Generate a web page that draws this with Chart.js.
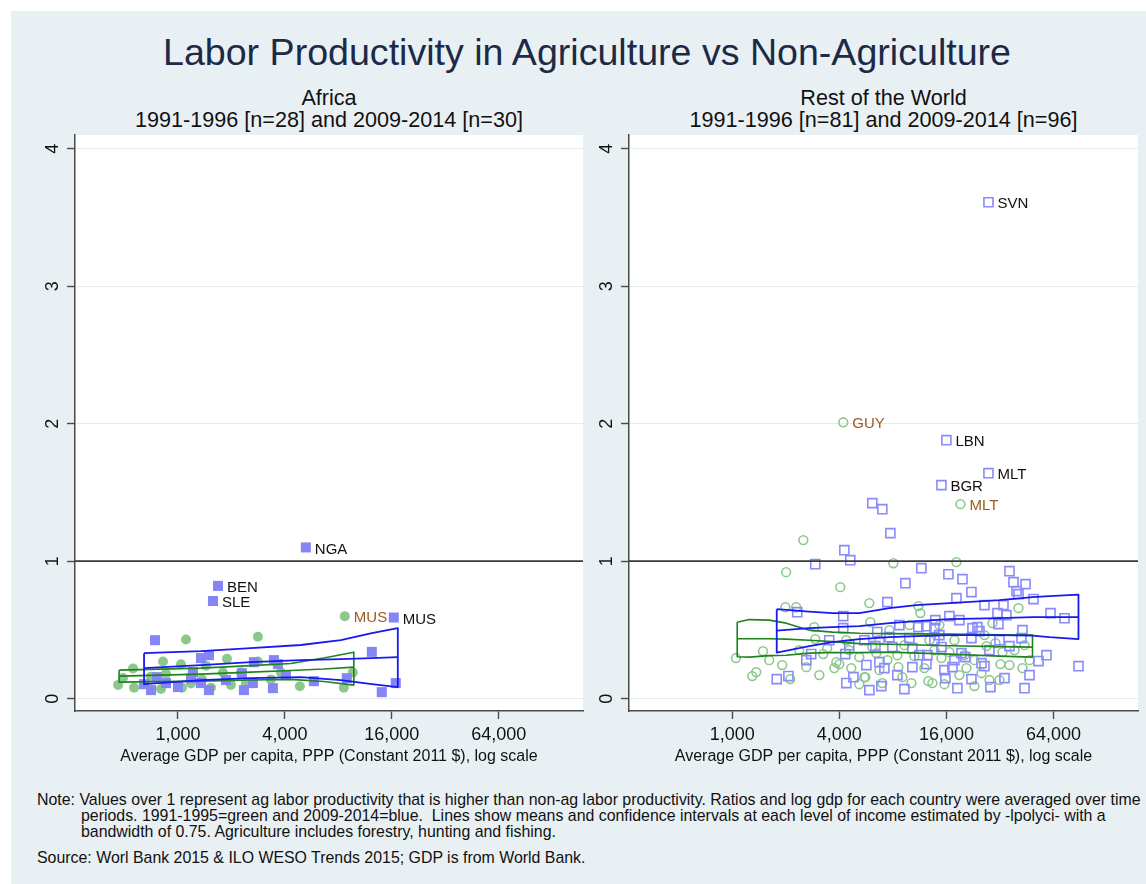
<!DOCTYPE html>
<html>
<head>
<meta charset="utf-8">
<title>Labor Productivity in Agriculture vs Non-Agriculture</title>
<script src="https://cdn.jsdelivr.net/npm/chart.js@4.4.1/dist/chart.umd.min.js"></script>
<style>
  body { margin: 0; width: 1146px; height: 884px; background: #fff; position: relative; overflow: hidden;
         font-family: "Liberation Sans", Arial, Helvetica, sans-serif; color: #111; }
  #frame { position: absolute; left: 11px; top: 11px; right: 0; bottom: 0; background: #e9f0f3; }
  .txt { position: absolute; white-space: nowrap; }
  .ctr { text-align: center; }
  #title { left: 11px; width: 1152px; top: 34px; font-size: 37.6px; line-height: 37px; color: #1c2a48; }
  .sub { font-size: 21.6px; line-height: 21px; }
  .note { font-size: 15.9px; line-height: 16px; }
  canvas { position: absolute; }
</style>
</head>
<body>
<div id="frame"></div>
<div id="title" class="txt ctr">Labor Productivity in Agriculture vs Non-Agriculture</div>
<div class="txt ctr sub" style="left:75px;width:508px;top:87px">Africa</div>
<div class="txt ctr sub" style="left:75px;width:508px;top:109px">1991-1996 [n=28] and 2009-2014 [n=30]</div>
<div class="txt ctr sub" style="left:629px;width:509px;top:87px">Rest of the World</div>
<div class="txt ctr sub" style="left:629px;width:509px;top:109px">1991-1996 [n=81] and 2009-2014 [n=96]</div>

<canvas id="africa" width="580" height="650" style="left:20px;top:125px"></canvas>
<canvas id="world" width="572" height="650" style="left:574px;top:125px"></canvas>

<div class="txt note" style="left:37px;top:792px">Note: Values over 1 represent ag labor productivity that is higher than non-ag labor productivity. Ratios and log gdp for each country were averaged over time</div>
<div class="txt note" style="left:81px;top:808px">periods. 1991-1995=green and 2009-2014=blue.&nbsp; Lines show means and confidence intervals at each level of income estimated by -lpolyci- with a</div>
<div class="txt note" style="left:81px;top:824px">bandwidth of 0.75. Agriculture includes forestry, hunting and fishing.</div>
<div class="txt note" style="left:37px;top:850px">Source: Worl Bank 2015 &amp; ILO WESO Trends 2015; GDP is from World Bank.</div>

<script>
// ---- Axis setup ----
const xTickValues = [1000, 4000, 16000, 64000];
const xTickLabels = ['1,000', '4,000', '16,000', '64,000'];
const yTickValues = [0, 1, 2, 3, 4];
const xTitle = 'Average GDP per capita, PPP (Constant 2011 $), log scale';
const parityLine = 1;

// ---- Africa, 1991-1996 (green circles) ----
const afrGdp9196   = [460, 558, 566, 823, 856, 1040, 1053, 1109, 1365, 1791, 1887, 2262, 2819, 2819, 4857, 8590, 9650, 8700, 705, 1183, 1534, 1987, 2413, 3336, 1437, 3798, 802, 490];
const afrRatio9196 = [0.10, 0.22, 0.08, 0.27, 0.18, 0.25, 0.08, 0.43, 0.14, 0.19, 0.29, 0.19, 0.45, 0.27, 0.09, 0.08, 0.19, 0.60, 0.16, 0.11, 0.08, 0.10, 0.11, 0.14, 0.24, 0.19, 0.07, 0.15];
const afrCode9196  = ['', '', '', '', '', '', '', '', '', '', '', '', '', '', '', '', '', 'MUS', '', '', '', '', '', '', '', '', '', ''];

// ---- Africa, 2009-2014 (blue squares) ----
const afrGdp0914   = [5250, 1680, 1574, 16420, 742, 12350, 644, 705, 762, 1000, 1183, 1347, 1494, 1494, 1347, 2291, 2352, 2677, 3469, 3653, 3424, 5824, 8930, 14050, 16850, 1214, 2642, 856, 1863, 4052];
const afrRatio0914 = [1.10, 0.82, 0.71, 0.59, 0.425, 0.34, 0.105, 0.062, 0.156, 0.084, 0.149, 0.295, 0.316, 0.062, 0.113, 0.185, 0.062, 0.265, 0.28, 0.251, 0.076, 0.127, 0.149, 0.047, 0.113, 0.193, 0.113, 0.113, 0.135, 0.171];
const afrCode0914  = ['NGA', 'BEN', 'SLE', 'MUS', '', '', '', '', '', '', '', '', '', '', '', '', '', '', '', '', '', '', '', '', '', '', '', '', '', ''];

// ---- Africa, local polynomial fits (mean and CI) ----
const afrFitGdp9196  = [466, 1347, 2574, 4323, 6630, 9780];
const afrFitMean9196 = [0.164, 0.178, 0.193, 0.205, 0.215, 0.229];
const afrFitHi9196   = [0.207, 0.222, 0.240, 0.255, 0.295, 0.338];
const afrFitLo9196   = [0.120, 0.127, 0.135, 0.140, 0.125, 0.098];

const afrFitGdp0914  = [644, 1347, 2574, 4920, 8260, 12350, 17300];
const afrFitMean0914 = [0.222, 0.244, 0.265, 0.280, 0.287, 0.295, 0.302];
const afrFitHi0914   = [0.331, 0.345, 0.367, 0.390, 0.425, 0.476, 0.513];
const afrFitLo0914   = [0.105, 0.135, 0.149, 0.156, 0.135, 0.105, 0.084];

// ---- Rest of the World, 1991-1996 (green hollow circles) ----
const rowGdp9196 = [4210, 19180, 2510, 2010, 4050, 1990, 2290, 5900, 2890, 5980, 2930, 1490, 1050, 3420, 3250, 2610, 3850, 4000, 3750, 1910,
  1365, 1296, 2120, 5600, 6130, 6460, 5180, 8050, 18210, 11130, 11420, 40660, 29040, 12840, 26180, 6720, 26860, 30190, 16630, 33050,
  8480, 10570, 15000, 46900, 20730, 32200, 42830, 8590, 5530, 9050, 10170, 12670, 13350, 25180, 6980, 4380, 4670, 7450, 9290, 12030,
  18930, 23000, 27930, 36200, 38620, 14610, 17750, 6720, 3090, 1615, 2380, 4550, 9910, 20200, 31800, 13700, 7650, 5180, 15590, 23000, 43960];
const rowRatio9196 = [2.01, 1.415, 1.153, 0.92, 0.811, 0.665, 0.665, 0.695, 0.52, 0.556, 0.433, 0.345, 0.295, 0.367, 0.324, 0.229, 0.265, 0.251, 0.222, 0.244,
  0.193, 0.164, 0.142, 0.156, 0.375, 0.331, 0.302, 0.985, 0.993, 0.673, 0.622, 0.658, 0.549, 0.425, 0.462, 0.425, 0.382, 0.404, 0.338, 0.338,
  0.316, 0.309, 0.295, 0.28, 0.222, 0.251, 0.222, 0.229, 0.156, 0.156, 0.113, 0.127, 0.113, 0.185, 0.113, 0.425, 0.222, 0.28, 0.389, 0.222,
  0.171, 0.28, 0.135, 0.244, 0.353, 0.535, 0.425, 0.207, 0.171, 0.28, 0.353, 0.353, 0.535, 0.316, 0.135, 0.353, 0.498, 0.105, 0.105, 0.091, 0.389];
const rowCode9196 = ['GUY', 'MLT'];

// ---- Rest of the World, 2009-2014 (blue hollow squares) ----
const rowGdp0914 = [27570, 16000, 27570, 15000, 6130, 6980, 7745, 4270, 4610, 2930, 2320, 4210, 7450, 4210, 6540, 2780, 2610, 4320, 1780, 2070,
  5680, 4800, 4380, 6890, 6720, 6380, 7170, 11570, 16420, 19690, 36200, 9410, 22120, 38120, 44540, 39630, 40660, 18210, 49400, 33490,
  30980, 34810, 61560, 73800, 16630, 13870, 12350, 13700, 11130, 31390, 22410, 23910, 24530, 42830, 7645, 9910, 14610, 22120, 42280, 36200,
  7950, 10300, 15000, 19430, 20470, 12510, 58440, 52690, 88400, 10300, 12350, 17290, 25180, 26180, 15590, 8480, 15790, 22120, 28290, 43960,
  4550, 9290, 18450, 46900, 33920, 11280, 13700, 18930, 26180, 8700, 5530, 3510, 27930, 31800, 17750, 5900];
const rowRatio0914 = [3.611, 1.88, 1.64, 1.553, 1.422, 1.378, 1.204, 1.08, 1.007, 0.978, 0.629, 0.60, 0.702, 0.513, 0.484, 0.324, 0.28, 0.324, 0.142, 0.164,
  0.244, 0.156, 0.113, 0.091, 0.265, 0.382, 0.222, 0.949, 0.905, 0.869, 0.927, 0.84, 0.775, 0.847, 0.833, 0.782, 0.76, 0.731, 0.724, 0.68,
  0.622, 0.607, 0.622, 0.585, 0.60, 0.571, 0.527, 0.513, 0.52, 0.542, 0.513, 0.52, 0.491, 0.498, 0.447, 0.44, 0.462, 0.44, 0.44, 0.382,
  0.375, 0.367, 0.375, 0.331, 0.302, 0.316, 0.316, 0.273, 0.236, 0.229, 0.251, 0.229, 0.258, 0.236, 0.207, 0.171, 0.149, 0.142, 0.084, 0.076,
  0.389, 0.069, 0.076, 0.171, 0.149, 0.316, 0.425, 0.571, 0.68, 0.535, 0.425, 0.425, 0.353, 0.425, 0.28, 0.062];
const rowCode0914 = ['SVN', 'LBN', 'MLT', 'BGR'];

// ---- Rest of the World, local polynomial fits ----
const rowFitGdp9196  = [1067, 1246, 1615, 2013, 2712, 3653, 5183, 7645, 16630, 31800, 48750];
const rowFitMean9196 = [0.436, 0.436, 0.436, 0.433, 0.425, 0.415, 0.400, 0.396, 0.385, 0.378, 0.375];
const rowFitHi9196   = [0.556, 0.575, 0.571, 0.549, 0.498, 0.484, 0.476, 0.473, 0.469, 0.465, 0.462];
const rowFitLo9196   = [0.305, 0.302, 0.313, 0.316, 0.331, 0.335, 0.335, 0.338, 0.324, 0.309, 0.302];

const rowFitGdp0914  = [1780, 2712, 3653, 5183, 7645, 10850, 16630, 31800, 48750, 60760, 88400];
const rowFitMean0914 = [0.495, 0.513, 0.520, 0.527, 0.549, 0.564, 0.578, 0.585, 0.593, 0.593, 0.593];
const rowFitHi0914   = [0.651, 0.633, 0.622, 0.622, 0.658, 0.680, 0.695, 0.716, 0.738, 0.745, 0.756];
const rowFitLo0914   = [0.335, 0.382, 0.411, 0.433, 0.447, 0.455, 0.462, 0.462, 0.458, 0.447, 0.433];

// ---- Styling ----
const FONT = '"Liberation Sans", Arial, Helvetica, sans-serif';
const GREEN_MARK = '#8cc88c';
const BLUE_MARK  = '#8585f5';
const GREEN_LINE = '#1f841f';
const BLUE_LINE  = '#1818f0';
const LABEL_DARK = '#111111';
const LABEL_BROWN = '#9b5a1e';
const X_MIN = 263, X_MAX = 191000, Y_MIN = -0.09, Y_MAX = 4.1;

const points = (xs, ys) => xs.map((x, i) => ({ x, y: ys[i] }));
const codesFor = (n, codes) => Array.from({ length: n }, (_, i) => codes[i] || '');

// closed outline: upper bound left->right, then lower bound right->left
function envelope(xs, hi, lo) {
  const pts = xs.map((x, i) => ({ x, y: hi[i] }));
  for (let i = xs.length - 1; i >= 0; i--) pts.push({ x: xs[i], y: lo[i] });
  pts.push({ x: xs[0], y: hi[0] });
  return pts;
}

const lineSet = (data, color, width) => ({
  data, showLine: true, borderColor: color, borderWidth: width, pointRadius: 0,
  fill: false, tension: 0, borderJoinStyle: 'round'
});

// white plot region
const plotBg = {
  id: 'plotBg',
  beforeDraw(chart) {
    const { ctx, chartArea: a } = chart;
    ctx.save();
    ctx.fillStyle = '#ffffff';
    ctx.fillRect(a.left, a.top, a.right - a.left, a.bottom - a.top);
    ctx.restore();
  }
};

// tick labels (y rotated, Stata style) and x-axis title
const axisText = {
  id: 'axisText',
  afterDraw(chart) {
    const { ctx, chartArea: a, scales: { x, y } } = chart;
    ctx.save();
    ctx.fillStyle = '#111';
    ctx.font = '18px ' + FONT;
    ctx.textAlign = 'center';
    ctx.textBaseline = 'middle';
    yTickValues.forEach(v => {
      ctx.save();
      ctx.translate(a.left - 23, y.getPixelForValue(v));
      ctx.rotate(-Math.PI / 2);
      ctx.fillText(String(v), 0, 1);
      ctx.restore();
    });
    ctx.textBaseline = 'alphabetic';
    xTickValues.forEach((v, i) => {
      ctx.fillText(xTickLabels[i], x.getPixelForValue(v), a.bottom + 29);
    });
    ctx.font = '16px ' + FONT;
    ctx.fillText(xTitle, (a.left + a.right) / 2, a.bottom + 50);
    ctx.restore();
  }
};

// country codes to the right of labelled markers
const markerLabels = {
  id: 'markerLabels',
  afterDatasetsDraw(chart) {
    const { ctx } = chart;
    ctx.save();
    ctx.font = '15px ' + FONT;
    ctx.textAlign = 'left';
    ctx.textBaseline = 'middle';
    chart.data.datasets.forEach((ds, di) => {
      if (!ds.codes) return;
      const meta = chart.getDatasetMeta(di);
      ctx.fillStyle = ds.codeColor;
      meta.data.forEach((el, i) => {
        if (ds.codes[i]) ctx.fillText(ds.codes[i], el.x + 9, el.y + 2);
      });
    });
    ctx.restore();
  }
};

function makeChart(id, padLeft, padRight, sets) {
  return new Chart(document.getElementById(id), {
    type: 'scatter',
    data: {
      datasets: [
        lineSet(envelope(sets.fitX0914, sets.fitHi0914, sets.fitLo0914), BLUE_LINE, 1.8),
        lineSet(points(sets.fitX0914, sets.fitMean0914), BLUE_LINE, 1.8),
        lineSet(envelope(sets.fitX9196, sets.fitHi9196, sets.fitLo9196), GREEN_LINE, 1.6),
        lineSet(points(sets.fitX9196, sets.fitMean9196), GREEN_LINE, 1.6),
        { data: [{ x: X_MIN, y: parityLine }, { x: X_MAX, y: parityLine }], showLine: true,
          borderColor: '#3a3a3a', borderWidth: 1.6, pointRadius: 0, tension: 0 },
        Object.assign({
          data: points(sets.x0914, sets.y0914),
          codes: codesFor(sets.x0914.length, sets.codes0914), codeColor: LABEL_DARK
        }, sets.style0914),
        Object.assign({
          data: points(sets.x9196, sets.y9196),
          codes: codesFor(sets.x9196.length, sets.codes9196), codeColor: LABEL_BROWN
        }, sets.style9196)
      ]
    },
    options: {
      responsive: false,
      animation: false,
      events: [],
      layout: { padding: { left: padLeft, right: padRight, top: 10, bottom: 56 } },
      plugins: { legend: { display: false }, tooltip: { enabled: false } },
      scales: {
        x: {
          type: 'logarithmic', min: X_MIN, max: X_MAX, bounds: 'data',
          afterBuildTicks: s => { s.ticks = xTickValues.map(v => ({ value: v })); },
          ticks: { display: false },
          grid: { drawOnChartArea: false, drawTicks: true, tickLength: 8, tickColor: '#4a4a4a', tickWidth: 1.4 },
          border: { display: true, color: '#4a4a4a', width: 1.5 }
        },
        y: {
          type: 'linear', min: Y_MIN, max: Y_MAX, bounds: 'data',
          afterBuildTicks: s => { s.ticks = yTickValues.map(v => ({ value: v })); },
          ticks: { display: false },
          grid: { color: '#e4ecf0', lineWidth: 1, drawTicks: true, tickLength: 8, tickColor: '#4a4a4a', tickWidth: 1.4 },
          border: { display: true, color: '#4a4a4a', width: 1.5 }
        }
      }
    },
    plugins: [plotBg, axisText, markerLabels]
  });
}

// Africa: solid markers
makeChart('africa', 47, 17, {
  x9196: afrGdp9196, y9196: afrRatio9196, codes9196: afrCode9196,
  x0914: afrGdp0914, y0914: afrRatio0914, codes0914: afrCode0914,
  fitX9196: afrFitGdp9196, fitMean9196: afrFitMean9196, fitHi9196: afrFitHi9196, fitLo9196: afrFitLo9196,
  fitX0914: afrFitGdp0914, fitMean0914: afrFitMean0914, fitHi0914: afrFitHi0914, fitLo0914: afrFitLo0914,
  style9196: { pointStyle: 'circle', pointRadius: 5, backgroundColor: GREEN_MARK, borderWidth: 0 },
  style0914: { pointStyle: 'rect', pointRadius: 7.1, backgroundColor: BLUE_MARK, borderWidth: 0 }
});

// Rest of the world: hollow markers
makeChart('world', 47, 8, {
  x9196: rowGdp9196, y9196: rowRatio9196, codes9196: rowCode9196,
  x0914: rowGdp0914, y0914: rowRatio0914, codes0914: rowCode0914,
  fitX9196: rowFitGdp9196, fitMean9196: rowFitMean9196, fitHi9196: rowFitHi9196, fitLo9196: rowFitLo9196,
  fitX0914: rowFitGdp0914, fitMean0914: rowFitMean0914, fitHi0914: rowFitHi0914, fitLo0914: rowFitLo0914,
  style9196: { pointStyle: 'circle', pointRadius: 4.4, backgroundColor: 'rgba(0,0,0,0)', borderColor: GREEN_MARK, borderWidth: 1.6 },
  style0914: { pointStyle: 'rect', pointRadius: 6.4, backgroundColor: 'rgba(0,0,0,0)', borderColor: '#8a8aff', borderWidth: 1.6 }
});
</script>
</body>
</html>
